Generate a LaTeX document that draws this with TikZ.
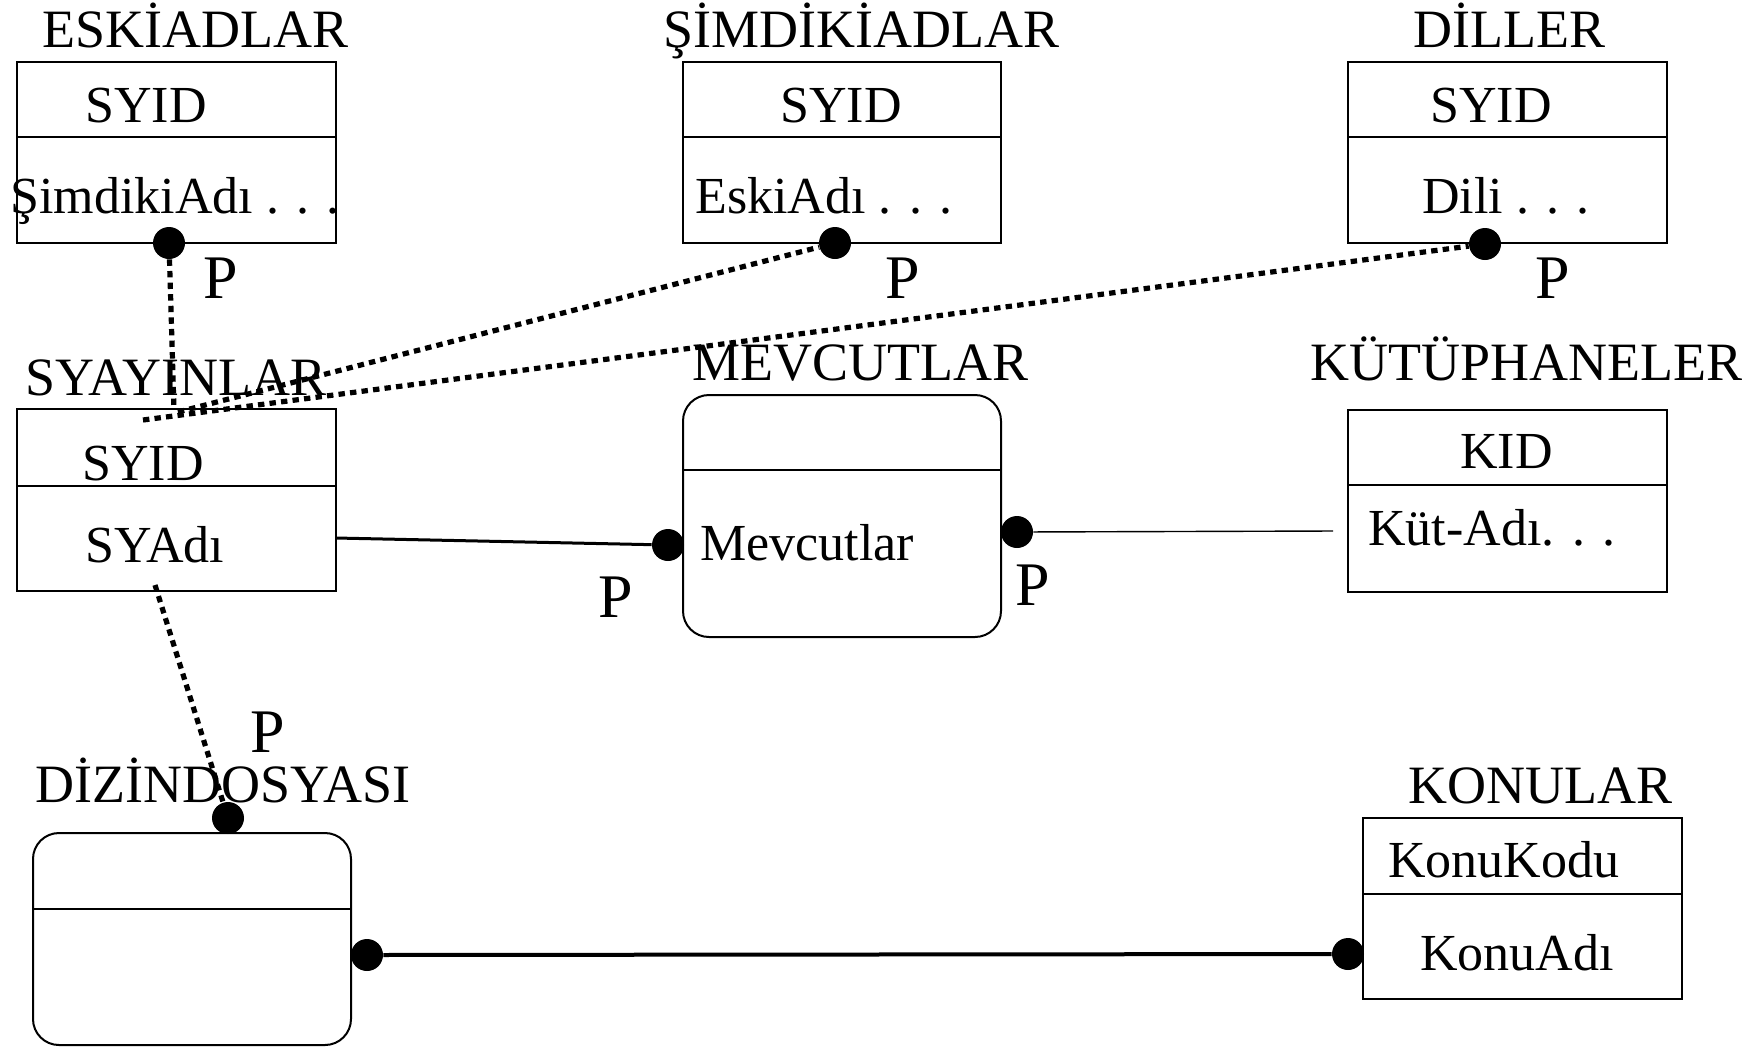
\documentclass[tikz,border=0pt]{standalone}
\usepackage{fontspec}
\setmainfont{Liberation Serif}
\begin{document}
\begin{tikzpicture}[x=0.5pt,y=-0.5pt,
  every node/.style={inner sep=0pt,anchor=base west,font=\fontsize{26}{30}\selectfont},
  ttl/.style={font=\fontsize{27}{31}\selectfont},
  plab/.style={font=\fontsize{31}{36}\selectfont},
  dot/.style={circle,fill=black,minimum size=16pt,anchor=center},
  box/.style={line width=1pt},
  dotline/.style={line width=2.6pt,dash pattern=on 3.2pt off 2.6pt},
  rel/.style={line width=1.5pt}]

\useasboundingbox (0,0) rectangle (1755,1046);

% tables
\draw[box] (17,62) rectangle (336,243);
\draw[box] (17,137)--(336,137);
\draw[box] (683,62) rectangle (1001,243);
\draw[box] (683,137)--(1001,137);
\draw[box] (1348,62) rectangle (1667,243);
\draw[box] (1348,137)--(1667,137);
\draw[box] (17,409) rectangle (336,591);
\draw[box] (17,486)--(336,486);
\draw[box] (1348,410) rectangle (1667,592);
\draw[box] (1348,485)--(1667,485);
\draw[box] (1363,818) rectangle (1682,999);
\draw[box] (1363,894)--(1682,894);

% rounded ones
\draw[box,rounded corners=13pt] (683,395) rectangle (1001,637);
\draw[box] (683,470)--(1001,470);
\draw[box,rounded corners=13pt] (33,833) rectangle (351,1045);
\draw[box] (33,909)--(351,909);

% titles
\node[ttl] (eski) at (42,47) {ESKİADLAR};
\node[ttl] (simdi) at (663,47) {ŞİMDİKİADLAR};
\node[ttl] (diller) at (1413,47) {DİLLER};
\node[ttl] (sy) at (25,395) {SYAYINLAR};
\node[ttl] (mev) at (692,380) {MEVCUTLAR};
\node[ttl] (kut) at (1310,380) {KÜTÜPHANELER};
\node[ttl] (diz) at (35,802) {DİZİNDOSYASI};
\node[ttl] (konu) at (1408,803) {KONULAR};

% fields
\node (eskiId) at (85,122) {SYID};
\node (eskiAd) at (10,213) {ŞimdikiAdı . . .};
\node (simdiId) at (780,122) {SYID};
\node (simdiAd) at (695,213) {EskiAdı . . .};
\node (dilId) at (1430,122) {SYID};
\node (dilAd) at (1422,213) {Dili . . .};
\node (syId) at (82,480) {SYID};
\node (syAd) at (85,562) {SYAdı};
\node (mevAd) at (700,560) {Mevcutlar};
\node (kutId) at (1460,468) {KID};
\node (kutAd) at (1368,545) {Küt-Adı. . .};
\node (konuKod) at (1388,877) {KonuKodu};
\node (konuAd) at (1420,970) {KonuAdı};

% P labels
\node[plab] (pEski) at (203,298) {P};
\node[plab] (pSimdi) at (885,298) {P};
\node[plab] (pDil) at (1535,298) {P};
\node[plab] (pMevL) at (598,617) {P};
\node[plab] (pMevR) at (1015,605) {P};
\node[plab] (pDiz) at (250,752) {P};

% dots
\node[dot] (eskiP) at (169,243) {};
\node[dot] (simdiP) at (835,243) {};
\node[dot] (dilP) at (1485,244) {};
\node[dot] (mevL) at (668,545) {};
\node[dot] (mevR) at (1017,532) {};
\node[dot] (dizT) at (228,818) {};
\node[dot] (dizR) at (367,955) {};
\node[dot] (konL) at (1348,954) {};

\coordinate (syTop) at (174,410);
\coordinate (syTopA) at (178,412);
\coordinate (syTopB) at (143,420);
\coordinate (syBot) at (155,585);
\coordinate (syR) at (336,538);
\coordinate (kutL) at (1333,531);

% links
\draw[dotline] (eskiP)--(syTop);
\draw[dotline] (syTopA)--(simdiP);
\draw[dotline] (syTopB)--(dilP);
\draw[dotline] (syBot)--(dizT);
\draw[rel] (syR)--(mevL);
\draw[line width=0.7pt] (mevR)--(kutL);
\draw[line width=2pt] (dizR)--(konL);

\end{tikzpicture}
\end{document}
